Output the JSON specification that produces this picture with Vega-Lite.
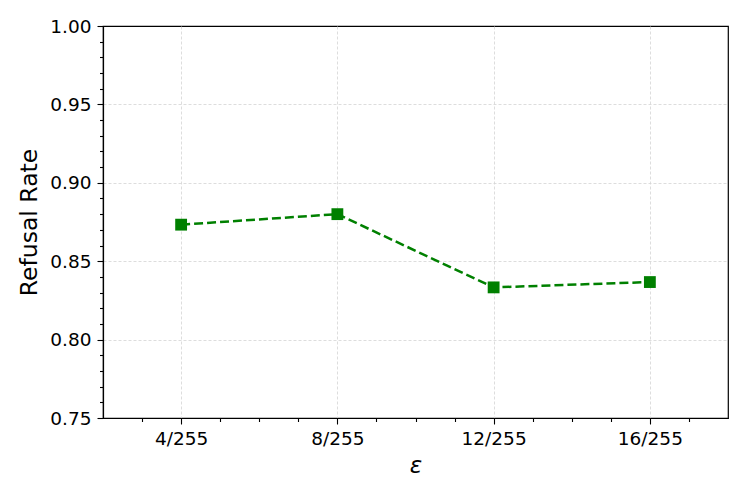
{
  "$schema": "https://vega.github.io/schema/vega-lite/v6.json",
  "width": 625,
  "height": 392,
  "autosize": "none",
  "padding": {"left": 103, "top": 26, "right": 19, "bottom": 80},
  "background": "white",
  "data": {"values": [
    {"eps": 1, "rate": 0.8733},
    {"eps": 2, "rate": 0.88},
    {"eps": 3, "rate": 0.8333},
    {"eps": 4, "rate": 0.8367}
  ]},
  "config": {
    "view": {"stroke": "#000", "strokeWidth": 1.2},
    "font": "DejaVu Sans",
    "axis": {
      "domainColor": "#000",
      "domainWidth": 1.2,
      "tickColor": "#000",
      "tickWidth": 1.1,
      "labelColor": "#000",
      "titleColor": "#000",
      "labelFont": "DejaVu Sans",
      "titleFont": "DejaVu Sans",
      "labelFontSize": 18.5,
      "titleFontSize": 23.5,
      "titleFontWeight": "normal",
      "gridColor": "#d4d4d4",
      "gridWidth": 0.8,
      "gridDash": [3, 2]
    }
  },
  "layer": [
    {
      "mark": {"type": "line", "color": "#008000", "strokeWidth": 2.5, "strokeDash": [9, 4]},
      "encoding": {
        "x": {
          "field": "eps", "type": "quantitative",
          "scale": {"domain": [0.5, 4.5], "nice": false, "zero": false},
          "axis": {
            "orient": "bottom", "values": [1, 2, 3, 4],
            "labelExpr": "datum.value * 4 + '/255'",
            "title": "ε", "titleFontStyle": "italic", "titleFontSize": 23,
            "tickSize": 6, "labelPadding": 5, "titlePadding": 7,
            "grid": true, "labelFlush": false
          }
        },
        "y": {
          "field": "rate", "type": "quantitative",
          "scale": {"domain": [0.75, 1.0], "nice": false, "zero": false},
          "axis": {
            "orient": "left", "values": [0.75, 0.8, 0.85, 0.9, 0.95, 1.0],
            "format": ".2f", "title": "Refusal Rate",
            "tickSize": 6, "labelPadding": 6, "titlePadding": 8,
            "grid": true, "labelFlush": false,
            "gridOpacity": {"condition": {"test": "datum.value <= 0.75 || datum.value >= 1", "value": 0}, "value": 1}
          }
        }
      }
    },
    {
      "mark": {"type": "point", "shape": "square", "filled": true, "color": "#008000", "size": 140, "opacity": 1},
      "encoding": {
        "x": {
          "field": "eps", "type": "quantitative",
          "scale": {"domain": [0.5, 4.5], "nice": false, "zero": false},
          "axis": {
            "orient": "bottom",
            "values": [0.75, 1.25, 1.5, 1.75, 2.25, 2.5, 2.75, 3.25, 3.5, 3.75, 4.25],
            "labels": false, "domain": false, "grid": false, "title": null, "tickSize": 3.5
          }
        },
        "y": {
          "field": "rate", "type": "quantitative",
          "scale": {"domain": [0.75, 1.0], "nice": false, "zero": false},
          "axis": {
            "orient": "left",
            "values": [0.76, 0.77, 0.78, 0.79, 0.81, 0.82, 0.83, 0.84, 0.86, 0.87, 0.88, 0.89, 0.91, 0.92, 0.93, 0.94, 0.96, 0.97, 0.98, 0.99],
            "labels": false, "domain": false, "grid": false, "title": null, "tickSize": 3.5
          }
        }
      }
    }
  ],
  "resolve": {"axis": {"x": "independent", "y": "independent"}}
}
